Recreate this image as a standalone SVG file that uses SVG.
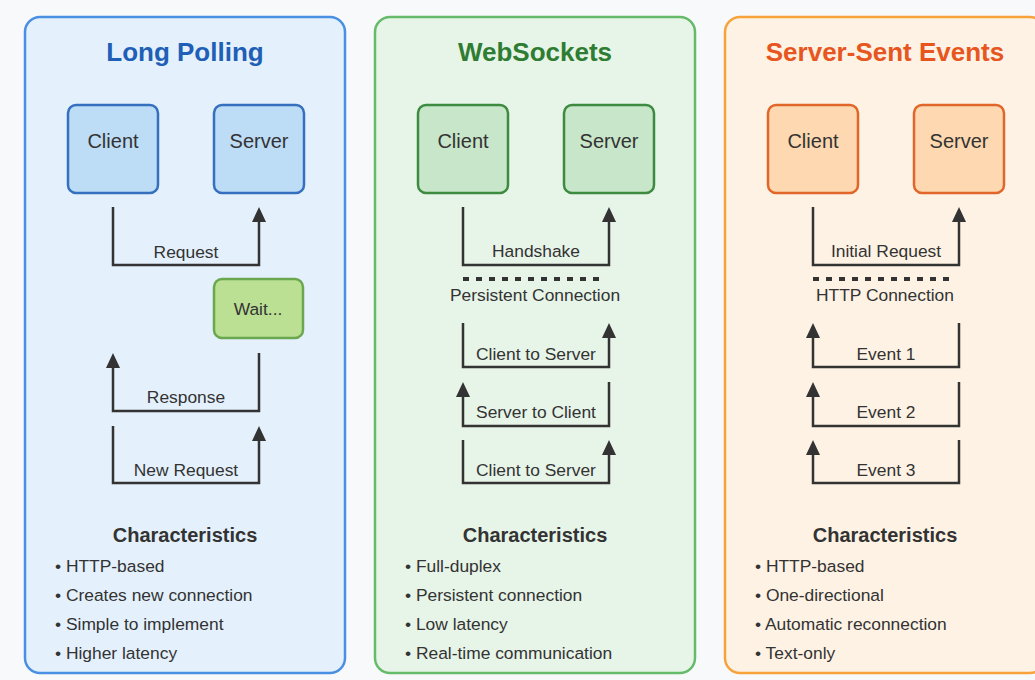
<svg xmlns="http://www.w3.org/2000/svg" width="1035" height="680" viewBox="0 0 1035 680">
<defs>
<style>
text{font-family:"Liberation Sans",Arial,sans-serif;fill:#333;}
.title{font-size:26px;font-weight:bold;text-anchor:middle;}
.box{font-size:20px;text-anchor:middle;}
.lbl{font-size:17.4px;text-anchor:middle;}
.head{font-size:20px;font-weight:bold;text-anchor:middle;}
.item{font-size:17.4px;}
.conn{fill:none;stroke:#333;stroke-width:2.5;marker-end:url(#arrow);}
.dots{stroke:#333;stroke-width:4;stroke-dasharray:6 7;}
</style>
<marker id="arrow" markerUnits="userSpaceOnUse" viewBox="0 0 15 14" markerWidth="15" markerHeight="14" refX="11" refY="7" orient="auto">
<path d="M0,0 L15,7 L0,14 z" fill="#333"/>
</marker>
</defs>
<rect x="0" y="0" width="1035" height="680" fill="#f8f9fb"/>

<g id="panel-long-polling">
<rect x="25" y="17" width="320" height="656" rx="15" fill="#e4f1fc" stroke="#4a90e2" stroke-width="2.5"/>
<text class="title" x="185" y="61" style="fill:#1f5fb5">Long Polling</text>
</g>
<g id="lp-client"><rect x="68" y="105" width="90" height="88" rx="8" fill="#bddcf6" stroke="#3470bd" stroke-width="2.5"/><text class="box" x="113" y="148">Client</text></g>
<g id="lp-server"><rect x="214" y="105" width="90" height="88" rx="8" fill="#bddcf6" stroke="#3470bd" stroke-width="2.5"/><text class="box" x="259" y="148">Server</text></g>
<g id="lp-wait"><rect x="214" y="279" width="89" height="59" rx="8" fill="#bbdf93" stroke="#6aa84f" stroke-width="2.5"/><text class="lbl" x="258" y="315">Wait...</text></g>
<g id="lp-characteristics">
<text class="head" x="185" y="542">Characteristics</text>
<text class="item" x="55" y="572">• HTTP-based</text>
<text class="item" x="55" y="601">• Creates new connection</text>
<text class="item" x="55" y="630">• Simple to implement</text>
<text class="item" x="55" y="659">• Higher latency</text>
</g>

<g id="panel-websockets">
<rect x="375" y="17" width="320" height="656" rx="15" fill="#e7f4e8" stroke="#66bb6a" stroke-width="2.5"/>
<text class="title" x="535" y="61" style="fill:#2e7d32">WebSockets</text>
</g>
<g id="ws-client"><rect x="418" y="105" width="90" height="88" rx="8" fill="#c8e6c9" stroke="#3d8b40" stroke-width="2.5"/><text class="box" x="463" y="148">Client</text></g>
<g id="ws-server"><rect x="564" y="105" width="90" height="88" rx="8" fill="#c8e6c9" stroke="#3d8b40" stroke-width="2.5"/><text class="box" x="609" y="148">Server</text></g>
<g id="ws-characteristics">
<text class="head" x="535" y="542">Characteristics</text>
<text class="item" x="405" y="572">• Full-duplex</text>
<text class="item" x="405" y="601">• Persistent connection</text>
<text class="item" x="405" y="630">• Low latency</text>
<text class="item" x="405" y="659">• Real-time communication</text>
</g>

<g id="panel-sse">
<rect x="725" y="17" width="320" height="656" rx="15" fill="#fef2e4" stroke="#f7a23b" stroke-width="2.5"/>
<text class="title" x="885" y="61" style="fill:#e6561e">Server-Sent Events</text>
</g>
<g id="sse-client"><rect x="768" y="105" width="90" height="88" rx="8" fill="#fdd8b0" stroke="#e0662a" stroke-width="2.5"/><text class="box" x="813" y="148">Client</text></g>
<g id="sse-server"><rect x="914" y="105" width="90" height="88" rx="8" fill="#fdd8b0" stroke="#e0662a" stroke-width="2.5"/><text class="box" x="959" y="148">Server</text></g>
<g id="sse-characteristics">
<text class="head" x="885" y="542">Characteristics</text>
<text class="item" x="755" y="572">• HTTP-based</text>
<text class="item" x="755" y="601">• One-directional</text>
<text class="item" x="755" y="630">• Automatic reconnection</text>
<text class="item" x="755" y="659">• Text-only</text>
</g>

<g id="connectors">
<path class="conn" d="M113,207 V265 H259 V211"/>
<text class="lbl" x="186" y="258">Request</text>
<path class="conn" d="M259,353 V411 H113 V357"/>
<text class="lbl" x="186" y="403">Response</text>
<path class="conn" d="M113,426 V483 H259 V430"/>
<text class="lbl" x="186" y="476">New Request</text>

<path class="conn" d="M463,207 V265 H609 V211"/>
<text class="lbl" x="536" y="257">Handshake</text>
<line class="dots" x1="463" y1="279" x2="599" y2="279"/>
<text class="lbl" x="535" y="301">Persistent Connection</text>
<path class="conn" d="M463,323 V367 H609 V327"/>
<text class="lbl" x="536" y="360">Client to Server</text>
<path class="conn" d="M609,382 V426 H463 V386"/>
<text class="lbl" x="536" y="418">Server to Client</text>
<path class="conn" d="M463,440 V483 H609 V444"/>
<text class="lbl" x="536" y="476">Client to Server</text>

<path class="conn" d="M813,207 V265 H959 V211"/>
<text class="lbl" x="886" y="257">Initial Request</text>
<line class="dots" x1="813" y1="279" x2="949" y2="279"/>
<text class="lbl" x="885" y="301">HTTP Connection</text>
<path class="conn" d="M959,323 V367 H813 V327"/>
<text class="lbl" x="886" y="360">Event 1</text>
<path class="conn" d="M959,382 V426 H813 V386"/>
<text class="lbl" x="886" y="418">Event 2</text>
<path class="conn" d="M959,440 V483 H813 V444"/>
<text class="lbl" x="886" y="476">Event 3</text>
</g>
</svg>
